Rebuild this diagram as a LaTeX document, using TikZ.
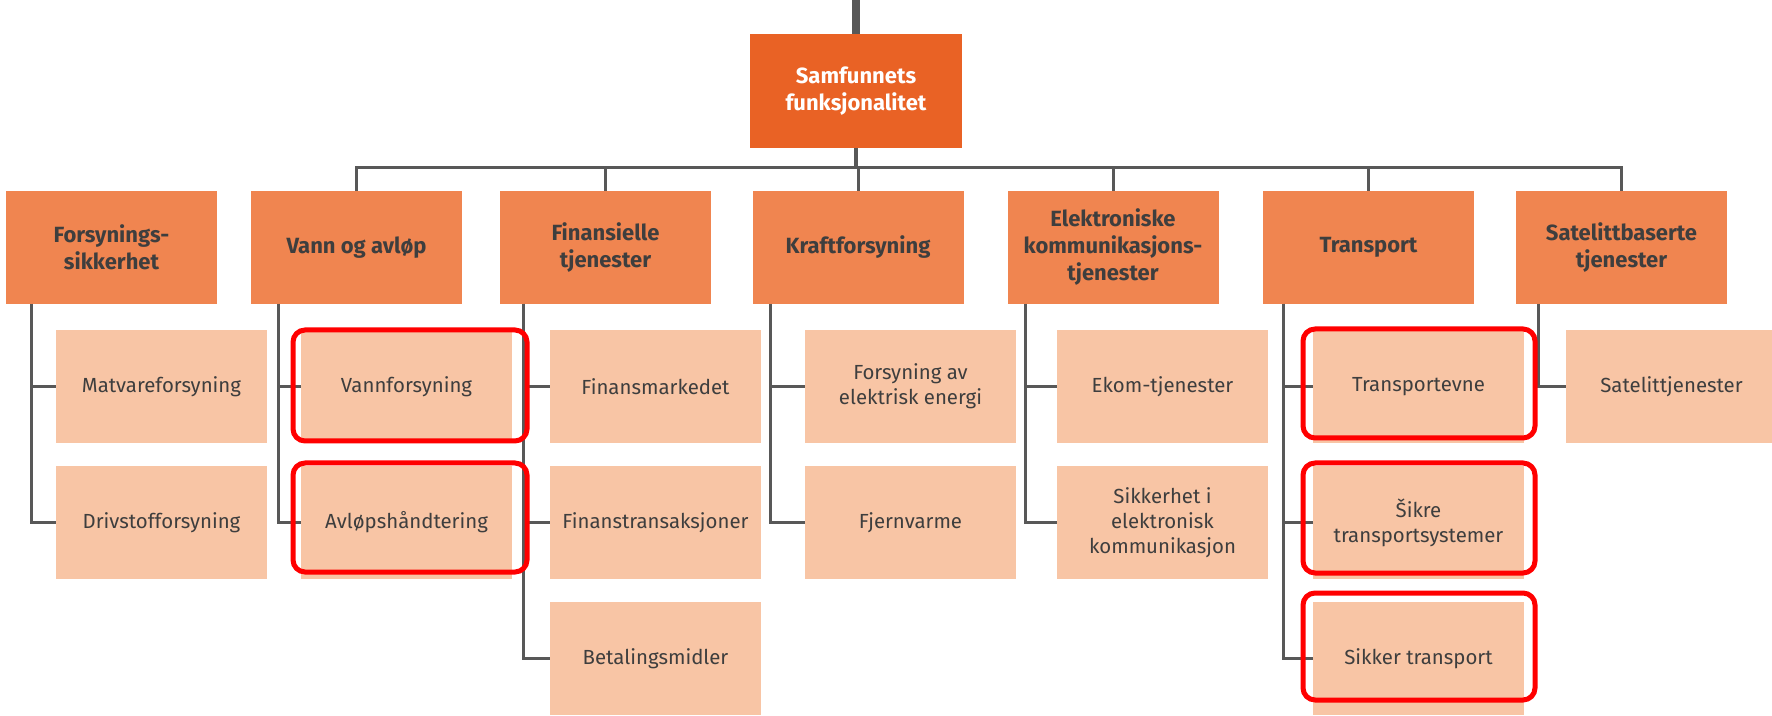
\documentclass[tikz,border=0pt]{standalone}
\usepackage{fontspec}
\setmainfont{Fira Sans}

\definecolor{topfill}{RGB}{233,98,37}
\definecolor{catfill}{RGB}{240,133,80}
\definecolor{subfill}{RGB}{248,197,165}
\definecolor{wiregray}{RGB}{88,88,88}
\definecolor{txtgray}{RGB}{62,62,62}

\begin{document}
\begin{tikzpicture}[x=0.5pt,y=0.5pt,yscale=-1,xscale=1,
  topbox/.style={fill=topfill,text=white,minimum width=106pt,minimum height=57pt,inner sep=0pt,align=center,font=\fontsize{11}{13.5}\selectfont\bfseries},
  catbox/.style={fill=catfill,text=txtgray,minimum width=105.5pt,minimum height=56.5pt,inner sep=0pt,align=center,font=\fontsize{11}{13.5}\selectfont\bfseries},
  subbox/.style={fill=subfill,text=txtgray,minimum width=105.5pt,minimum height=56.5pt,inner sep=0pt,align=center,font=\fontsize{10.2}{12.5}\selectfont},
  wire/.style={draw=wiregray,line width=1.5pt},
  hilite/.style={draw=red,line width=2.5pt,rounded corners=6pt}]
%set diagram to 1772 x 716
\clip (0,0) rectangle (1772,716);

% Top node
\node [topbox] (top) at (856,91) {Samfunnets\\funksjonalitet};

% Category nodes
\node [catbox] (fsk) at (111.5,247.5) {Forsynings-\\sikkerhet};
\node [catbox] (vann) at (356.5,247.5) {Vann og avløp};
\node [catbox] (fin) at (605.5,247.5) {Finansielle\\tjenester};
\node [catbox] (kraft) at (858,247.5) {Kraftforsyning};
\node [catbox] (ekom) at (1113,247.5) {Elektroniske\\kommunikasjons-\\tjenester};
\node [catbox] (trans) at (1368.5,247.5) {Transport};
\node [catbox] (satb) at (1621.5,247.5) {Satelittbaserte\\tjenester};

% Sub nodes
\node [subbox] (matv) at (161.5,386.5) {Matvareforsyning};
\node [subbox] (drivs) at (161.5,522.5) {Drivstofforsyning};
\node [subbox] (vannf) at (406.5,386.5) {Vannforsyning};
\node [subbox] (avlop) at (406.5,522.5) {Avløpshåndtering};
\node [subbox] (finm) at (655.5,386.5) {Finansmarkedet};
\node [subbox] (fint) at (655.5,522.5) {Finanstransaksjoner};
\node [subbox] (betal) at (655.5,658.5) {Betalingsmidler};
\node [subbox] (elen) at (910.5,386.5) {Forsyning av\\elektrisk energi};
\node [subbox] (fjern) at (910.5,522.5) {Fjernvarme};
\node [subbox] (ekomt) at (1162.5,386.5) {Ekom-tjenester};
\node [subbox] (ekoms) at (1162.5,522.5) {Sikkerhet i\\elektronisk\\kommunikasjon};
\node [subbox] (tevne) at (1418.5,386.5) {Transportevne};
\node [subbox] (tsys) at (1418.5,522.5) {Šikre\\transportsystemer};
\node [subbox] (tsikk) at (1418.5,658.5) {Sikker transport};
\node [subbox] (satt) at (1671.5,386.5) {Satelittjenester};

% Bus lines
\coordinate (feed) at (856,0);
\coordinate (bus) at (856,168);
\draw [wire,line width=4pt] (feed) -- (top.north);
\draw [wire,line width=2pt] (top.south) -- (bus);
\draw [wire] (vann.north) |- (satb.north |- bus) -- (satb.north);
\draw [wire] (fin.north) -- (fin.north |- bus);
\draw [wire] (kraft.north) -- (kraft.north |- bus);
\draw [wire] (ekom.north) -- (ekom.north |- bus);
\draw [wire] (trans.north) -- (trans.north |- bus);

% Column lines
\coordinate (fskL) at (31,304);
\coordinate (vannL) at (278,304);
\coordinate (finL) at (523,304);
\coordinate (kraftL) at (770,304);
\coordinate (ekomL) at (1025,304);
\coordinate (transL) at (1283,304);
\coordinate (satbL) at (1538,304);
\draw [wire] (fskL) |- (matv.west);
\draw [wire] (fskL) |- (drivs.west);
\draw [wire] (vannL) |- (vannf.west);
\draw [wire] (vannL) |- (avlop.west);
\draw [wire] (finL) |- (finm.west);
\draw [wire] (finL) |- (fint.west);
\draw [wire] (finL) |- (betal.west);
\draw [wire] (kraftL) |- (elen.west);
\draw [wire] (kraftL) |- (fjern.west);
\draw [wire] (ekomL) |- (ekomt.west);
\draw [wire] (ekomL) |- (ekoms.west);
\draw [wire] (transL) |- (tevne.west);
\draw [wire] (transL) |- (tsys.west);
\draw [wire] (transL) |- (tsikk.west);
\draw [wire] (satbL) |- (satt.west);

% Red highlights
\draw [hilite] (293,330) rectangle (527,441);
\draw [hilite] (293,463) rectangle (527,572);
\draw [hilite] (1303,329) rectangle (1535,438);
\draw [hilite] (1303,463) rectangle (1535,573);
\draw [hilite] (1303,593) rectangle (1535,700);

\end{tikzpicture}
\end{document}
